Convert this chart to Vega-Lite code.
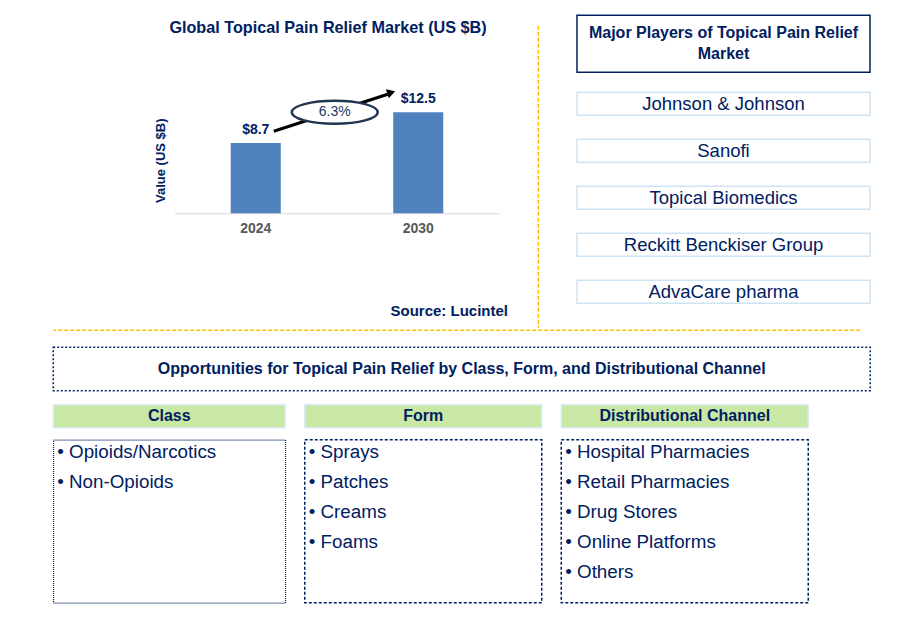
{
  "$schema": "https://vega.github.io/schema/vega-lite/v6.json",
  "padding": {"left": 52.25, "top": 9.25, "right": 0, "bottom": 0},
  "background": "white",
  "config": {
    "font": "Liberation Sans",
    "view": {"stroke": null},
    "text": {"font": "Liberation Sans"}
  },
  "datasets": {
    "market": [
      {"year": "2024", "value": 8.7},
      {"year": "2030", "value": 12.5}
    ],
    "growth": [{"cagr": "6.3%"}],
    "players": [
      {"player": "Johnson & Johnson"},
      {"player": "Sanofi"},
      {"player": "Topical Biomedics"},
      {"player": "Reckitt Benckiser Group"},
      {"player": "AdvaCare pharma"}
    ],
    "segments": [
      {"group": "Class", "item": "Opioids/Narcotics"},
      {"group": "Class", "item": "Non-Opioids"},
      {"group": "Form", "item": "Sprays"},
      {"group": "Form", "item": "Patches"},
      {"group": "Form", "item": "Creams"},
      {"group": "Form", "item": "Foams"},
      {"group": "Distributional Channel", "item": "Hospital Pharmacies"},
      {"group": "Distributional Channel", "item": "Retail Pharmacies"},
      {"group": "Distributional Channel", "item": "Drug Stores"},
      {"group": "Distributional Channel", "item": "Online Platforms"},
      {"group": "Distributional Channel", "item": "Others"}
    ],
    "groups": [
      {"group": "Class"},
      {"group": "Form"},
      {"group": "Distributional Channel"}
    ],
    "headings": [
      {"key": "players", "text": "Major Players of Topical Pain Relief\nMarket"},
      {"key": "opps", "text": "Opportunities for Topical Pain Relief by Class, Form, and Distributional Channel"},
      {"key": "blank", "text": ""}
    ]
  },
  "bounds": "full",
  "spacing": 15,
  "vconcat": [
    {
      "bounds": "full",
      "spacing": 0,
      "vconcat": [
        {
          "bounds": "full",
          "spacing": 100.25,
          "hconcat": [
            {
              "width": 1, "height": 1,
              "data": {"name": "headings"},
              "transform": [{"filter": "datum.key === 'blank'"}],
              "mark": {"type": "text"},
              "encoding": {"text": {"field": "text"}}
            },
            {
              "bounds": "full",
              "spacing": 29.75,
              "hconcat": [
                {
                  "width": 325,
                  "height": 198,
                  "title": {
                    "text": "Global Topical Pain Relief Market (US $B)",
                    "fontSize": 16.2,
                    "fontWeight": "bold",
                    "color": "#002060",
                    "font": "Liberation Sans",
                    "anchor": "middle",
                    "frame": "group",
                    "offset": -28.75,
                    "baseline": "middle",
                    "dx": -9
                  },
                  "data": {"name": "market"},
                  "layer": [
                    {
                      "mark": {"type": "bar", "color": "#4F81BD"},
                      "encoding": {
                        "x": {
                          "field": "year", "type": "nominal",
                          "scale": {"paddingInner": 0.692, "paddingOuter": 0.346},
                          "axis": {
                            "labelAngle": 0, "labelFontSize": 14, "labelFontWeight": "bold",
                            "labelColor": "#595959", "labelPadding": 8, "ticks": false,
                            "domainColor": "#D9D9D9", "domainWidth": 1.2,
                            "title": "Source: Lucintel", "titleFontSize": 15, "titleFontWeight": "bold",
                            "titleColor": "#002060", "titleX": 333, "titleY": 97,
                            "titleAlign": "right", "titleBaseline": "middle"
                          }
                        },
                        "y": {
                          "field": "value", "type": "quantitative",
                          "scale": {"domain": [0, 24.5], "nice": false},
                          "axis": {
                            "domain": false, "labels": false, "ticks": false, "grid": false,
                            "title": "Value (US $B)", "titleFontSize": 13, "titleFontWeight": "bold",
                            "titleColor": "#002060", "titlePadding": 7, "titleY": 145
                          }
                        }
                      }
                    },
                    {
                      "mark": {"type": "text", "dy": -13, "fontSize": 14, "fontWeight": "bold", "color": "#002060"},
                      "encoding": {
                        "x": {"field": "year", "type": "nominal"},
                        "y": {"field": "value", "type": "quantitative"},
                        "text": {"field": "value", "format": "$.1f"}
                      }
                    },
                    {
                      "data": {"name": "growth"},
                      "mark": {"type": "rule", "strokeWidth": 3, "color": "black", "xOffset": 18, "x2Offset": -30.5},
                      "encoding": {
                        "x": {"datum": "2024", "type": "nominal"},
                        "x2": {"datum": "2030"},
                        "y": {"datum": 10.15, "type": "quantitative"},
                        "y2": {"datum": 14.72}
                      }
                    },
                    {
                      "data": {"name": "growth"},
                      "mark": {"type": "point", "shape": "triangle-right", "filled": true, "color": "black", "opacity": 1, "size": 90, "angle": -18, "xOffset": -27},
                      "encoding": {
                        "x": {"datum": "2030", "type": "nominal"},
                        "y": {"datum": 14.95, "type": "quantitative"}
                      }
                    },
                    {
                      "data": {"name": "growth"},
                      "mark": {"type": "point", "shape": "M-1,0A1,0.267,0,1,1,1,0A1,0.267,0,1,1,-1,0Z", "filled": true, "fill": "white", "stroke": "#1F3550", "strokeWidth": 2.5, "opacity": 1, "size": 7396, "xOffset": 79},
                      "encoding": {
                        "x": {"datum": "2024", "type": "nominal"},
                        "y": {"datum": 12.5, "type": "quantitative"}
                      }
                    },
                    {
                      "data": {"name": "growth"},
                      "mark": {"type": "text", "fontSize": 14, "color": "#1F3864", "xOffset": 79},
                      "encoding": {
                        "x": {"datum": "2024", "type": "nominal"},
                        "y": {"datum": 12.5, "type": "quantitative"},
                        "text": {"field": "cagr"}
                      }
                    }
                  ]
                },
                {
                  "bounds": "full",
                  "spacing": 36.75,
                  "hconcat": [
                    {
                      "bounds": "flush",
                      "spacing": 9.5,
                      "vconcat": [
                        {
                          "width": 1, "height": 1,
                          "data": {"name": "headings"},
                          "transform": [{"filter": "datum.key === 'blank'"}],
                          "mark": {"type": "text"},
                          "encoding": {"text": {"field": "text"}}
                        },
                        {
                          "width": 1, "height": 302,
                          "data": {"name": "headings"},
                          "transform": [{"filter": "datum.key === 'blank'"}],
                          "mark": {"type": "rule", "color": "#FFC000", "strokeDash": [4, 2], "strokeWidth": 1.5},
                          "encoding": {"x": {"value": 0}}
                        }
                      ]
                    },
                    {
                      "bounds": "flush",
                      "spacing": 8,
                      "vconcat": [
                        {
                          "width": 293, "height": 57,
                          "view": {"stroke": "#002060", "strokeWidth": 1.5},
                          "data": {"name": "headings"},
                          "transform": [{"filter": "datum.key === 'players'"}],
                          "mark": {"type": "text", "fontSize": 16, "fontWeight": "bold", "color": "#002060", "lineBreak": "\n", "lineHeight": 21, "baseline": "middle", "dy": -10.5},
                          "encoding": {"text": {"field": "text"}}
                        },
                        {
                          "width": 293, "height": 235,
                          "data": {"name": "players"},
                          "encoding": {
                            "y": {"field": "player", "type": "nominal", "sort": null, "axis": null,
                                  "scale": {"paddingInner": 0.51, "paddingOuter": 0.255}}
                          },
                          "layer": [
                            {"mark": {"type": "rect", "fill": "white", "stroke": "#CFE4F3", "strokeWidth": 1.5}},
                            {"mark": {"type": "text", "fontSize": 18.5, "color": "#002060"},
                             "encoding": {"text": {"field": "player"}}}
                          ]
                        }
                      ]
                    }
                  ]
                }
              ]
            }
          ]
        },
        {
          "width": 807, "height": 1,
          "data": {"name": "headings"},
          "transform": [{"filter": "datum.key === 'blank'"}],
          "mark": {"type": "rule", "color": "#FFC000", "strokeDash": [4, 2], "strokeWidth": 1.5},
          "encoding": {"y": {"value": 0}}
        }
      ]
    },
    {
      "bounds": "full",
      "spacing": 11.5,
      "vconcat": [
        {
          "width": 817, "height": 43.5,
          "view": {"stroke": "#002060", "strokeDash": [2, 2], "strokeWidth": 1.5},
          "data": {"name": "headings"},
          "transform": [{"filter": "datum.key === 'opps'"}],
          "mark": {"type": "text", "fontSize": 16, "fontWeight": "bold", "color": "#002060"},
          "encoding": {"text": {"field": "text"}}
        },
        {
          "bounds": "full",
          "spacing": 17.5,
          "hconcat": [
            {
              "bounds": "flush",
              "spacing": 12,
              "vconcat": [
                {
                  "width": 232, "height": 23,
                  "view": {"fill": "#C9E7A5", "stroke": "#DDEBF7", "strokeWidth": 1.5},
                  "data": {"name": "groups"},
                  "transform": [{"filter": "datum.group === 'Class'"}],
                  "mark": {"type": "text", "fontSize": 16, "fontWeight": "bold", "color": "#002060"},
                  "encoding": {"text": {"field": "group"}}
                },
                {
                  "width": 232, "height": 163,
                  "view": {"stroke": "#002060", "strokeDash": [1, 1], "strokeWidth": 1.2},
                  "data": {"name": "segments"},
                  "transform": [
                    {"filter": "datum.group === 'Class'"},
                    {"calculate": "'• ' + datum.item", "as": "bullet"}
                  ],
                  "mark": {"type": "text", "align": "left", "fontSize": 18.8, "color": "#002060"},
                  "encoding": {
                    "x": {"value": 4},
                    "y": {"field": "item", "type": "nominal", "sort": null, "axis": null,
                          "scale": {"type": "point", "padding": 0, "range": [12.5, 42.5]}},
                    "text": {"field": "bullet"}
                  }
                }
              ]
            },
            {
              "bounds": "flush",
              "spacing": 12,
              "vconcat": [
                {
                  "width": 237, "height": 23,
                  "view": {"fill": "#C9E7A5", "stroke": "#DDEBF7", "strokeWidth": 1.5},
                  "data": {"name": "groups"},
                  "transform": [{"filter": "datum.group === 'Form'"}],
                  "mark": {"type": "text", "fontSize": 16, "fontWeight": "bold", "color": "#002060"},
                  "encoding": {"text": {"field": "group"}}
                },
                {
                  "width": 237, "height": 163,
                  "view": {"stroke": "#002060", "strokeDash": [3, 2], "strokeWidth": 1.5},
                  "data": {"name": "segments"},
                  "transform": [
                    {"filter": "datum.group === 'Form'"},
                    {"calculate": "'• ' + datum.item", "as": "bullet"}
                  ],
                  "mark": {"type": "text", "align": "left", "fontSize": 18.8, "color": "#002060"},
                  "encoding": {
                    "x": {"value": 4},
                    "y": {"field": "item", "type": "nominal", "sort": null, "axis": null,
                          "scale": {"type": "point", "padding": 0, "range": [12.5, 102.5]}},
                    "text": {"field": "bullet"}
                  }
                }
              ]
            },
            {
              "bounds": "flush",
              "spacing": 12,
              "vconcat": [
                {
                  "width": 247, "height": 23,
                  "view": {"fill": "#C9E7A5", "stroke": "#DDEBF7", "strokeWidth": 1.5},
                  "data": {"name": "groups"},
                  "transform": [{"filter": "datum.group === 'Distributional Channel'"}],
                  "mark": {"type": "text", "fontSize": 16, "fontWeight": "bold", "color": "#002060"},
                  "encoding": {"text": {"field": "group"}}
                },
                {
                  "width": 247, "height": 163,
                  "view": {"stroke": "#002060", "strokeDash": [3, 2], "strokeWidth": 1.5},
                  "data": {"name": "segments"},
                  "transform": [
                    {"filter": "datum.group === 'Distributional Channel'"},
                    {"calculate": "'• ' + datum.item", "as": "bullet"}
                  ],
                  "mark": {"type": "text", "align": "left", "fontSize": 18.8, "color": "#002060"},
                  "encoding": {
                    "x": {"value": 4},
                    "y": {"field": "item", "type": "nominal", "sort": null, "axis": null,
                          "scale": {"type": "point", "padding": 0, "range": [12.5, 132.5]}},
                    "text": {"field": "bullet"}
                  }
                }
              ]
            }
          ]
        }
      ]
    }
  ]
}
